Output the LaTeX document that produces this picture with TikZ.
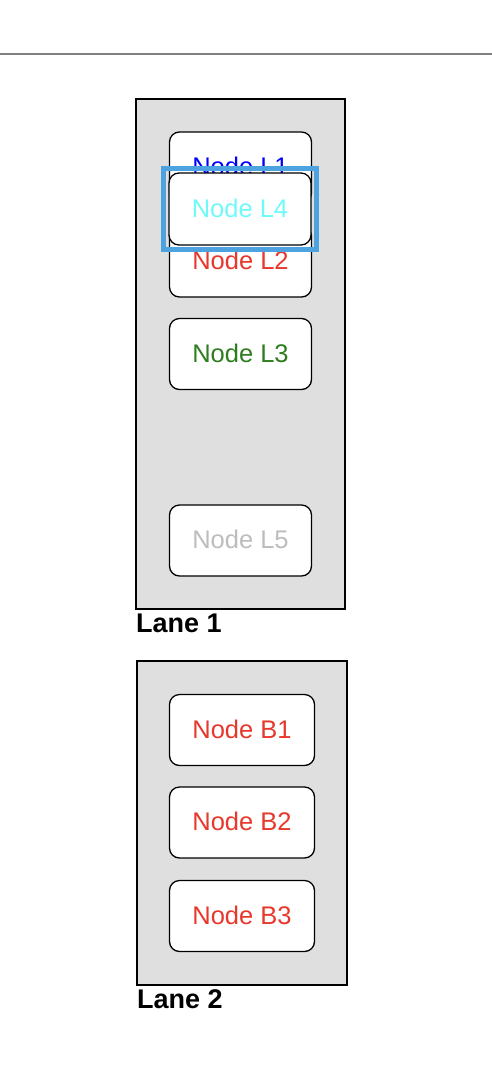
\documentclass[tikz,border=0pt]{standalone}
\usepackage{fontspec}
\setmainfont{Liberation Sans}
\usepackage{xcolor}
\usetikzlibrary{positioning,fit}

\definecolor{lanegray}{HTML}{DFDFDF}
\definecolor{hiblue}{HTML}{4DA3E0}
\definecolor{txtred}{HTML}{E8372B}
\definecolor{txtgreen}{HTML}{2E7D1F}
\definecolor{txtcyan}{HTML}{6FFAFA}
\definecolor{txtgray}{HTML}{BDBDBD}

\begin{document}
\begin{tikzpicture}[x=1pt, y=-1pt,
  lane/.style={draw=black, line width=1.5pt, fill=lanegray},
  lanelbl/.style={anchor=base west, inner sep=0pt, font=\fontsize{27}{32}\selectfont\bfseries},
  item/.style={draw=black, line width=1.3pt, fill=white, rounded corners=10pt, minimum width=142pt, minimum height=71pt, inner sep=0pt, font=\fontsize{25.5}{30}\selectfont},
  hilite/.style={draw=hiblue, line width=5pt, inner xsep=4.5pt, inner ysep=3.5pt}
]
\useasboundingbox (0,0) rectangle (492,1066);

% top rule
\coordinate (ruleL) at (0,54);
\coordinate (ruleR) at (492,54);
\draw[gray, line width=2pt] (ruleL) -- (ruleR);

% Lane 1
\draw[lane] (136,99) rectangle (345,609);
\node[lanelbl] (lbl1) at (136,632) {Lane 1};

\node[item, text=blue] (nodeL1) at (240.5,167.5) {\raisebox{2pt}{Node L1}};
\node[item, text=txtred] (nodeL2) at (240.5,261.5) {\raisebox{2pt}{Node L2}};
\node[item, text=txtgreen] (nodeL3) at (240.5,354) {\raisebox{2pt}{Node L3}};
\node[item, text=txtgray] (nodeL5) at (240.5,540.5) {\raisebox{2pt}{Node L5}};
\node[item, text=txtcyan, minimum height=72pt] (nodeL4) at (240,209) {\raisebox{2pt}{Node L4}};

% selection frame
\node[hilite, fit=(nodeL4)] (selL4) {};

% Lane 2
\draw[lane] (137,661) rectangle (347,985);
\node[lanelbl] (lbl2) at (137,1008) {Lane 2};

\node[item, text=txtred, minimum width=145pt] (nodeB1) at (242,730) {\raisebox{2pt}{Node B1}};
\node[item, text=txtred, minimum width=145pt] (nodeB2) at (242,822.5) {\raisebox{2pt}{Node B2}};
\node[item, text=txtred, minimum width=145pt] (nodeB3) at (242,916) {\raisebox{2pt}{Node B3}};

\end{tikzpicture}
\end{document}
